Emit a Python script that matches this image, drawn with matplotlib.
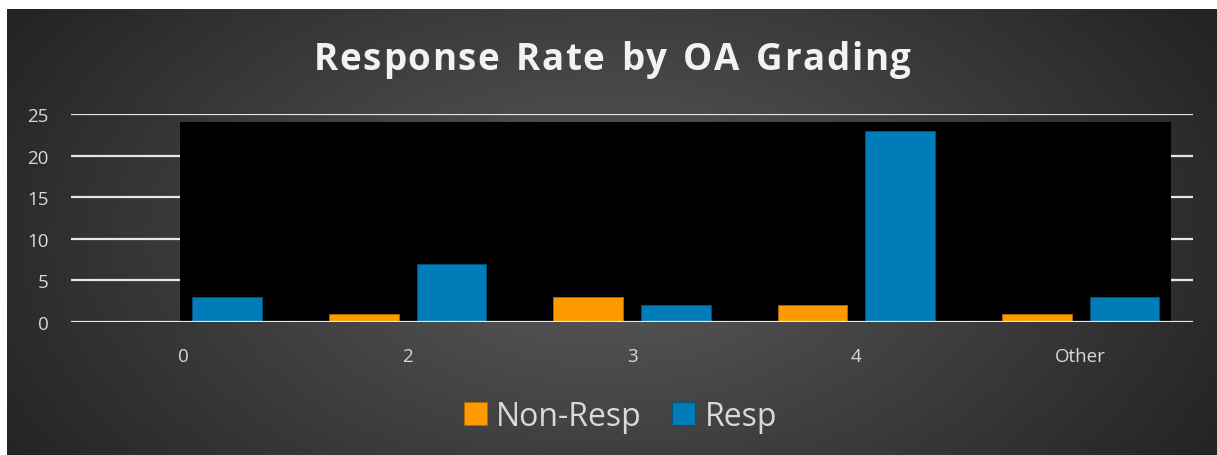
import matplotlib
matplotlib.use("Agg")
import matplotlib.pyplot as plt
from matplotlib.patches import Rectangle
import numpy as np

categories = ["0", "2", "3", "4", "Other"]
non_resp = [0, 1, 3, 2, 1]
resp = [3, 7, 2, 23, 3]
series_names = ["Non-Resp", "Resp"]
yticks = [0, 5, 10, 15, 20, 25]
title = "Response Rate by OA Grading"

orange = "#FF9900"
blue = "#007DB9"
txt = "#D9D9D9"

plt.rcParams["font.family"] = ["Open Sans", "DejaVu Sans"]

W, H = 1217, 456
fig = plt.figure(figsize=(W / 100, H / 100), dpi=100)
fig.patch.set_facecolor("white")

# radial gradient panel
bg = fig.add_axes([7 / W, 0, (W - 7) / W, (H - 10) / H], zorder=-10)
yy, xx = np.mgrid[0:446, 0:1210]
d = np.sqrt(((xx - 600) / 700.0) ** 2 + ((yy - 230) / 420.0) ** 2)
shade = np.clip(0.36 - 0.22 * d, 0.14, 0.36)
bg.imshow(np.dstack([shade] * 3), aspect="auto", interpolation="bilinear")
bg.axis("off")

ax = fig.add_axes([71 / W, (H - 323) / H, (1193 - 71) / W, 208 / H])
ax.set_facecolor("none")
x = np.arange(len(categories))
w = 0.31
ax.bar(x - 0.195, non_resp, w, color=orange, edgecolor="#B06A00", linewidth=0.6,
       label=series_names[0], zorder=3)
ax.bar(x + 0.195, resp, w, color=blue, edgecolor="#00507A", linewidth=0.6,
       label=series_names[1], zorder=3)

# black plot panel behind bars
ax.add_patch(Rectangle((-0.013, 0), 4.413, 24.05, facecolor="black",
                       edgecolor="none", zorder=2))
for v in yticks:
    ax.axhline(v, color="#E6E6E6", lw=1.6, zorder=1 if v else 4)

ax.set_xlim(-0.5, 4.5)
ax.set_ylim(0, 25)
ax.set_yticks(yticks)
ax.set_xticks(x)
ax.set_xticklabels(categories)
ax.tick_params(axis="both", length=0, colors=txt, labelsize=13.5)
ax.tick_params(axis="y", pad=16)
ax.tick_params(axis="x", pad=18)
for s in ax.spines.values():
    s.set_visible(False)

# letter-spaced title, placed one character at a time
renderer = fig.canvas.get_renderer()
tkw = dict(fontsize=26.5, fontweight="bold", color="#F2F2F2", va="center", ha="left")
spacing = 1.6
widths = []
for ch in title:
    t = fig.text(0, 0, ch if ch != " " else "n", **tkw)
    bb = t.get_window_extent(renderer)
    widths.append(bb.width * (0.55 if ch == " " else 1.0))
    t.remove()
total = sum(widths) + spacing * (len(title) - 1)
xpos = 612 - total / 2
for ch, cw in zip(title, widths):
    if ch != " ":
        fig.text(xpos / W, 1 - 60 / H, ch, **tkw)
    xpos += cw + spacing

leg = fig.legend(loc="center", bbox_to_anchor=(0.51, 0.085), ncol=2, frameon=False,
                 fontsize=23, handlelength=0.7, handleheight=0.7,
                 handletextpad=0.3, columnspacing=0.95)
for t in leg.get_texts():
    t.set_color(txt)

fig.savefig("out.png", dpi=100, facecolor=fig.get_facecolor())
